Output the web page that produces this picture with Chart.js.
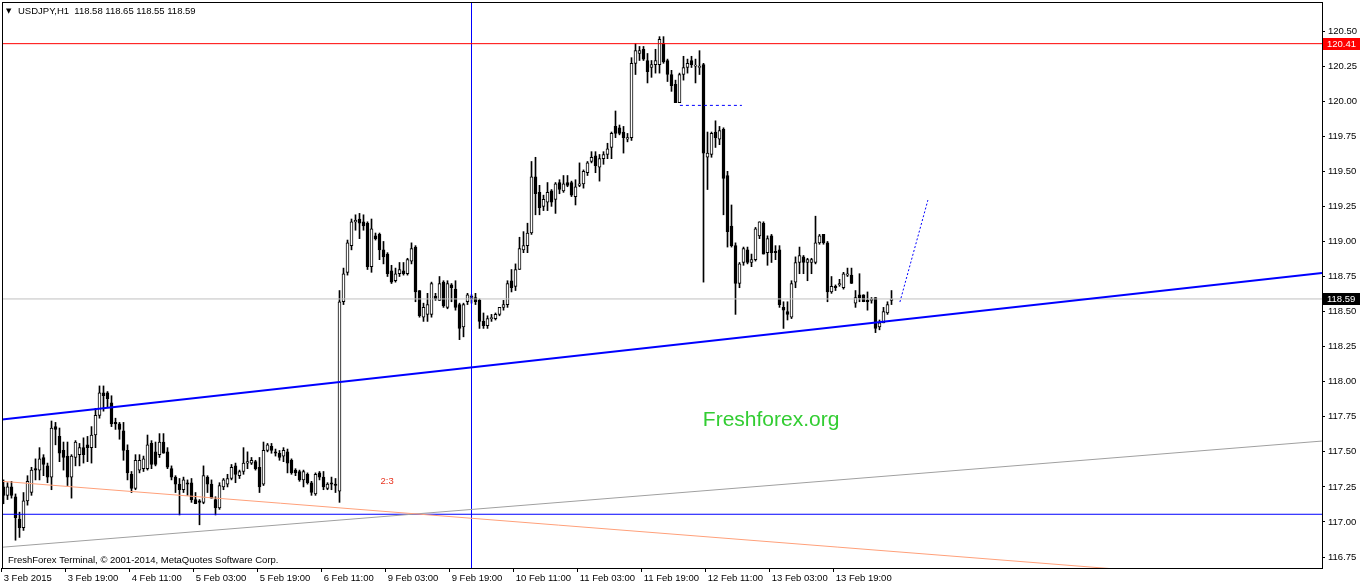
<!DOCTYPE html>
<html><head><meta charset="utf-8">
<script src="https://cdn.jsdelivr.net/npm/chart.js@4.4.1/dist/chart.umd.min.js"></script>
<style>html,body{margin:0;padding:0;background:#fff;overflow:hidden}canvas{display:block}</style>
</head><body>
<canvas id="c" width="1362" height="586"></canvas>
<script>
// ---- data (USDJPY H1) ----
const opens = [117.25,117.19,117.25,117.18,117.02,116.96,117.15,117.21,117.38,117.37,117.46,117.40,117.32,117.68,117.61,117.51,117.47,117.32,117.46,117.48,117.53,117.55,117.53,117.62,117.76,117.92,117.92,117.85,117.71,117.70,117.65,117.51,117.34,117.24,117.37,117.38,117.38,117.56,117.50,117.48,117.57,117.50,117.38,117.32,117.27,117.23,117.28,117.28,117.16,117.15,117.14,117.32,117.27,117.16,117.10,117.25,117.27,117.31,117.40,117.33,117.36,117.42,117.42,117.43,117.39,117.27,117.51,117.54,117.50,117.49,117.47,117.50,117.44,117.37,117.36,117.30,117.34,117.28,117.20,117.35,117.32,117.24,117.28,117.27,117.22,118.57,118.78,118.97,119.14,119.16,119.14,119.13,118.82,119.04,119.05,118.94,118.91,118.79,118.72,118.77,118.79,118.77,118.86,118.96,118.65,118.46,118.48,118.48,118.61,118.58,118.71,118.53,118.69,118.66,118.55,118.39,118.57,118.59,118.60,118.58,118.43,118.40,118.45,118.45,118.48,118.53,118.55,118.72,118.68,118.80,118.94,118.97,119.06,119.46,119.35,119.25,119.28,119.36,119.30,119.42,119.36,119.42,119.42,119.32,119.40,119.41,119.49,119.57,119.61,119.53,119.59,119.62,119.67,119.82,119.81,119.78,119.73,119.74,120.27,120.34,120.37,120.29,120.24,120.26,120.26,120.41,120.29,120.19,120.12,119.99,120.19,120.24,120.29,120.25,120.24,120.26,119.60,119.62,119.78,119.73,119.80,119.47,119.11,118.97,118.70,118.85,118.94,118.85,118.87,119.04,119.13,118.92,119.04,118.93,118.94,118.53,118.50,118.46,118.71,118.85,118.89,118.85,118.85,118.85,118.99,119.05,118.99,118.64,118.68,118.69,118.67,118.76,118.76,118.56,118.62,118.62,118.58,118.58,118.60,118.39,118.42,118.49,118.58];
const highs = [117.30,117.28,117.29,117.20,117.07,117.21,117.33,117.39,117.45,117.53,117.48,117.42,117.72,117.71,117.67,117.57,117.57,117.48,117.58,117.56,117.60,117.61,117.68,117.81,117.97,117.97,117.93,117.90,117.74,117.71,117.71,117.55,117.36,117.48,117.48,117.47,117.62,117.58,117.57,117.63,117.63,117.53,117.40,117.33,117.31,117.32,117.30,117.31,117.21,117.16,117.40,117.33,117.30,117.18,117.28,117.31,117.34,117.41,117.42,117.37,117.53,117.50,117.46,117.44,117.46,117.57,117.56,117.56,117.52,117.51,117.53,117.52,117.45,117.38,117.37,117.37,117.35,117.29,117.35,117.36,117.36,117.28,117.32,117.31,118.65,118.81,119.01,119.16,119.19,119.20,119.19,119.14,119.16,119.06,119.06,119.00,118.92,118.83,118.81,118.85,118.85,118.88,118.99,118.97,118.65,118.56,118.63,118.71,118.63,118.75,118.72,118.72,118.70,118.72,118.56,118.56,118.63,118.62,118.63,118.59,118.49,118.47,118.48,118.49,118.53,118.58,118.72,118.80,118.84,119.03,119.07,119.13,119.57,119.60,119.40,119.33,119.42,119.37,119.42,119.44,119.47,119.47,119.43,119.44,119.56,119.51,119.57,119.64,119.64,119.62,119.64,119.70,119.78,119.93,119.83,119.82,119.77,120.31,120.41,120.39,120.39,120.34,120.29,120.37,120.46,120.46,120.30,120.22,120.15,120.20,120.32,120.30,120.32,120.30,120.36,120.27,119.78,119.78,119.86,119.82,119.81,119.50,119.26,118.99,118.85,118.96,118.96,118.91,119.10,119.14,119.14,119.04,119.05,118.97,118.97,118.57,118.57,118.72,118.89,118.96,118.90,118.88,118.88,119.18,119.05,119.05,119.00,118.75,118.69,118.73,118.78,118.81,118.81,118.65,118.77,118.62,118.64,118.60,118.60,118.44,118.53,118.57,118.65];
const lows = [117.13,117.16,117.17,116.87,116.89,116.94,117.12,117.19,117.30,117.30,117.33,117.28,117.23,117.55,117.43,117.37,117.26,117.17,117.40,117.40,117.42,117.43,117.42,117.53,117.74,117.79,117.82,117.68,117.66,117.59,117.44,117.30,117.21,117.23,117.35,117.36,117.37,117.38,117.40,117.46,117.49,117.38,117.30,117.21,117.05,117.21,117.19,117.14,117.13,116.98,117.13,117.21,117.17,117.05,117.09,117.23,117.25,117.30,117.28,117.31,117.34,117.38,117.41,117.37,117.21,117.26,117.50,117.49,117.47,117.44,117.43,117.35,117.34,117.33,117.29,117.25,117.27,117.19,117.19,117.30,117.23,117.23,117.23,117.21,117.14,118.55,118.76,118.94,119.08,119.02,119.08,118.80,118.78,119.01,118.87,118.84,118.75,118.70,118.71,118.75,118.76,118.76,118.84,118.57,118.46,118.43,118.43,118.46,118.58,118.58,118.53,118.52,118.57,118.51,118.30,118.32,118.55,118.56,118.55,118.38,118.38,118.38,118.43,118.44,118.47,118.51,118.53,118.64,118.65,118.80,118.92,118.92,119.05,119.19,119.19,119.22,119.22,119.25,119.20,119.34,119.35,119.39,119.32,119.26,119.39,119.38,119.47,119.56,119.49,119.43,119.55,119.59,119.59,119.74,119.76,119.63,119.71,119.72,120.19,120.29,120.29,120.13,120.17,120.20,120.20,120.27,120.14,120.07,119.99,119.99,120.15,120.20,120.24,120.13,120.19,118.71,119.37,119.60,119.67,119.69,119.19,118.96,118.96,118.48,118.67,118.83,118.84,118.82,118.86,119.02,118.91,118.83,118.85,118.87,118.53,118.38,118.44,118.45,118.67,118.77,118.77,118.72,118.77,118.84,118.98,118.98,118.57,118.63,118.65,118.68,118.66,118.75,118.70,118.53,118.57,118.57,118.51,118.56,118.35,118.37,118.42,118.48,118.55];
const closes = [117.19,117.25,117.19,117.03,116.96,117.15,117.29,117.37,117.37,117.45,117.41,117.32,117.67,117.66,117.49,117.46,117.32,117.47,117.57,117.53,117.48,117.53,117.62,117.76,117.92,117.90,117.88,117.70,117.70,117.66,117.51,117.35,117.24,117.44,117.44,117.45,117.55,117.41,117.41,117.57,117.49,117.39,117.32,117.27,117.23,117.30,117.27,117.16,117.13,117.14,117.33,117.27,117.17,117.10,117.26,117.30,117.31,117.39,117.34,117.36,117.42,117.43,117.44,117.38,117.25,117.51,117.55,117.51,117.49,117.46,117.51,117.42,117.35,117.35,117.30,117.36,117.28,117.21,117.34,117.32,117.25,117.27,117.27,117.26,118.57,118.77,118.99,119.14,119.15,119.13,119.11,118.82,119.09,119.02,118.94,118.89,118.77,118.71,118.77,118.80,118.77,118.87,118.95,118.64,118.47,118.53,118.55,118.70,118.59,118.70,118.54,118.70,118.67,118.53,118.38,118.55,118.62,118.61,118.57,118.43,118.40,118.45,118.45,118.48,118.53,118.55,118.70,118.67,118.80,118.95,118.97,119.06,119.46,119.34,119.24,119.30,119.35,119.28,119.41,119.37,119.41,119.40,119.33,119.39,119.41,119.50,119.56,119.60,119.54,119.59,119.62,119.66,119.77,119.77,119.77,119.74,119.74,120.27,120.36,120.36,120.30,120.21,120.26,120.29,120.44,120.28,120.19,120.11,119.99,120.19,120.24,120.27,120.26,120.25,120.25,119.63,119.63,119.77,119.74,119.79,119.45,119.07,118.97,118.70,118.84,118.95,118.85,118.87,119.09,119.14,118.91,119.02,118.92,118.92,118.55,118.51,118.48,118.70,118.85,118.90,118.85,118.87,118.87,118.99,119.04,118.99,118.64,118.68,118.67,118.70,118.77,118.77,118.70,118.60,118.60,118.57,118.57,118.58,118.38,118.42,118.50,118.55,118.59];

const xTickIdx = [0,16,32,48,64,80,96,112,128,144,160,176,192,208];
const xTickLabels = ['3 Feb 2015','3 Feb 19:00','4 Feb 11:00','5 Feb 03:00','5 Feb 19:00','6 Feb 11:00','9 Feb 03:00','9 Feb 19:00','10 Feb 11:00','11 Feb 03:00','11 Feb 19:00','12 Feb 11:00','13 Feb 03:00','13 Feb 19:00'];
const yTicks = [116.75,117.00,117.25,117.50,117.75,118.00,118.25,118.50,118.75,119.00,119.25,119.50,119.75,120.00,120.25,120.50];

// drawn objects (bar index, price)
const supportIdx = [-0.375, 329.625], supportPrice = [117.73, 118.775];
const salmonIdx = [-0.375, 329.625], salmonPrice = [117.29, 116.549];
const grayIdx = [-0.375, 329.625], grayPrice = [116.82, 117.577];
const redLevel = 120.41;
const blueLevel = 117.055;
const vLineIdx = 117;
const dashIdx = [169.1, 184.6], dashPrice = [119.97, 119.97];
const dotIdx = [224.1, 231.1], dotPrice = [118.568, 119.295];
const ratioLabel = '2:3', ratioAt = [95.9, 117.29];
const watermark = 'Freshforex.org', watermarkAt = [191.9, 117.727];
const symbolTitle = 'USDJPY,H1';
const copyright = 'FreshForex Terminal, \u00a9 2001-2014, MetaQuotes Software Corp.';

const xMin = -0.375, xMax = 329.625, yMin = 116.672, yMax = 120.707;
const n = opens.length;
const last = n - 1;

const wickData = opens.map((o,i)=>({x:i, y:[lows[i], highs[i]]}));
const bodyData = opens.map((o,i)=>({x:i, y:[Math.min(o,closes[i]), Math.max(o,closes[i])]}));
const bodyFill = opens.map((o,i)=> closes[i] >= o ? '#ffffff' : '#000000');

const seg = (xs, ys) => [{x:xs[0], y:ys[0]}, {x:xs[1], y:ys[1]}];
const lineDs = (data, color, width, dash) => ({type:'line', data, borderColor:color, borderWidth:width, borderDash:dash||[], pointRadius:0, tension:0, fill:false, order:0});

const FONT = 'Liberation Sans, Arial, sans-serif';

const overlay = {
  id:'overlay',
  afterDraw(chart){
    const {ctx, chartArea:a, scales:{x, y}} = chart;
    ctx.save();
    ctx.strokeStyle = '#000'; ctx.lineWidth = 1;
    ctx.strokeRect(a.left + 0.5, a.top + 0.5, a.right - a.left, a.bottom - a.top);
    ctx.fillStyle = '#000'; ctx.textBaseline = 'middle'; ctx.textAlign = 'left';
    ctx.font = '7px DejaVu Sans'; ctx.fillText('\u25BC', 6, 11);
    ctx.font = '9.5px ' + FONT;
    ctx.fillText(symbolTitle + '  ' + [opens[last], highs[last], lows[last], closes[last]].map(v=>v.toFixed(2)).join(' '), 18, 11);
    ctx.fillText(copyright, 8, 560);
    ctx.fillStyle = '#e8321e'; ctx.textAlign = 'center';
    ctx.fillText(ratioLabel, x.getPixelForValue(ratioAt[0]), y.getPixelForValue(ratioAt[1]));
    ctx.fillStyle = '#32cd32'; ctx.font = '21px ' + FONT;
    ctx.fillText(watermark, x.getPixelForValue(watermarkAt[0]), y.getPixelForValue(watermarkAt[1]));
    const box = (val, bg) => {
      const py = Math.round(y.getPixelForValue(val));
      ctx.fillStyle = bg; ctx.fillRect(a.right + 1, py - 6, 37, 12);
      ctx.fillStyle = '#fff'; ctx.textAlign = 'left'; ctx.font = '9.5px ' + FONT;
      ctx.fillText(val.toFixed(2), a.right + 5, py);
    };
    box(redLevel, '#ff0000');
    box(closes[last], '#000000');
    ctx.restore();
  }
};

new Chart(document.getElementById('c'), {
  type:'bar',
  data:{
    datasets:[
      lineDs(seg(supportIdx, supportPrice), '#0000ff', 2),
      lineDs(seg(salmonIdx, salmonPrice), '#ffa07a', 1),
      lineDs(seg(grayIdx, grayPrice), '#a0a0a0', 1),
      lineDs(seg([xMin, xMax], [redLevel, redLevel]), '#ff0000', 1),
      lineDs(seg([xMin, xMax], [closes[last], closes[last]]), '#c0c0c0', 1),
      lineDs(seg([xMin, xMax], [blueLevel, blueLevel]), '#0000ff', 1),
      lineDs(seg([vLineIdx, vLineIdx], [yMin, yMax]), '#0000ff', 1),
      lineDs(seg(dashIdx, dashPrice), '#0000ff', 1, [3,3]),
      lineDs(seg(dotIdx, dotPrice), '#0000ff', 1, [2,2]),
      {type:'bar', data:bodyData, backgroundColor:bodyFill, borderColor:'#000', borderWidth:1, borderSkipped:false, barThickness:3, minBarLength:1, grouped:false, order:1},
      {type:'bar', data:wickData, backgroundColor:'#000', borderWidth:0, barThickness:1, minBarLength:1, grouped:false, order:2}
    ]
  },
  options:{
    responsive:false, animation:false, devicePixelRatio:1,
    layout:{padding:{left:2, top:2, right:0, bottom:0}},
    plugins:{legend:{display:false}, tooltip:{enabled:false}},
    scales:{
      x:{type:'linear', min:xMin, max:xMax, offset:false,
        afterBuildTicks: s => { s.ticks = xTickIdx.map(v => ({value: v - 0.45})); },
        afterFit: s => { s.height = 18; s.paddingLeft = 0; s.paddingRight = 0; },
        grid:{display:true, drawOnChartArea:false, drawTicks:true, tickLength:4, color:'#000', offset:false},
        border:{display:false},
        ticks:{autoSkip:false, maxRotation:0, minRotation:0, align:'start', padding:1, labelOffset:2, color:'#000',
          font:{family:FONT, size:9.5}, callback:(v, i) => xTickLabels[i]}
      },
      y:{type:'linear', position:'right', min:yMin, max:yMax,
        afterBuildTicks: s => { s.ticks = yTicks.map(v => ({value:v})); },
        afterFit: s => { s.width = 40; s.paddingTop = 0; s.paddingBottom = 0; },
        grid:{drawOnChartArea:false, drawTicks:true, tickLength:3, color:'#000'},
        border:{display:false},
        ticks:{padding:3, color:'#000', font:{family:FONT, size:9.5}, callback:v => Number(v).toFixed(2)}
      }
    }
  },
  plugins:[overlay]
});
</script>
</body></html>
